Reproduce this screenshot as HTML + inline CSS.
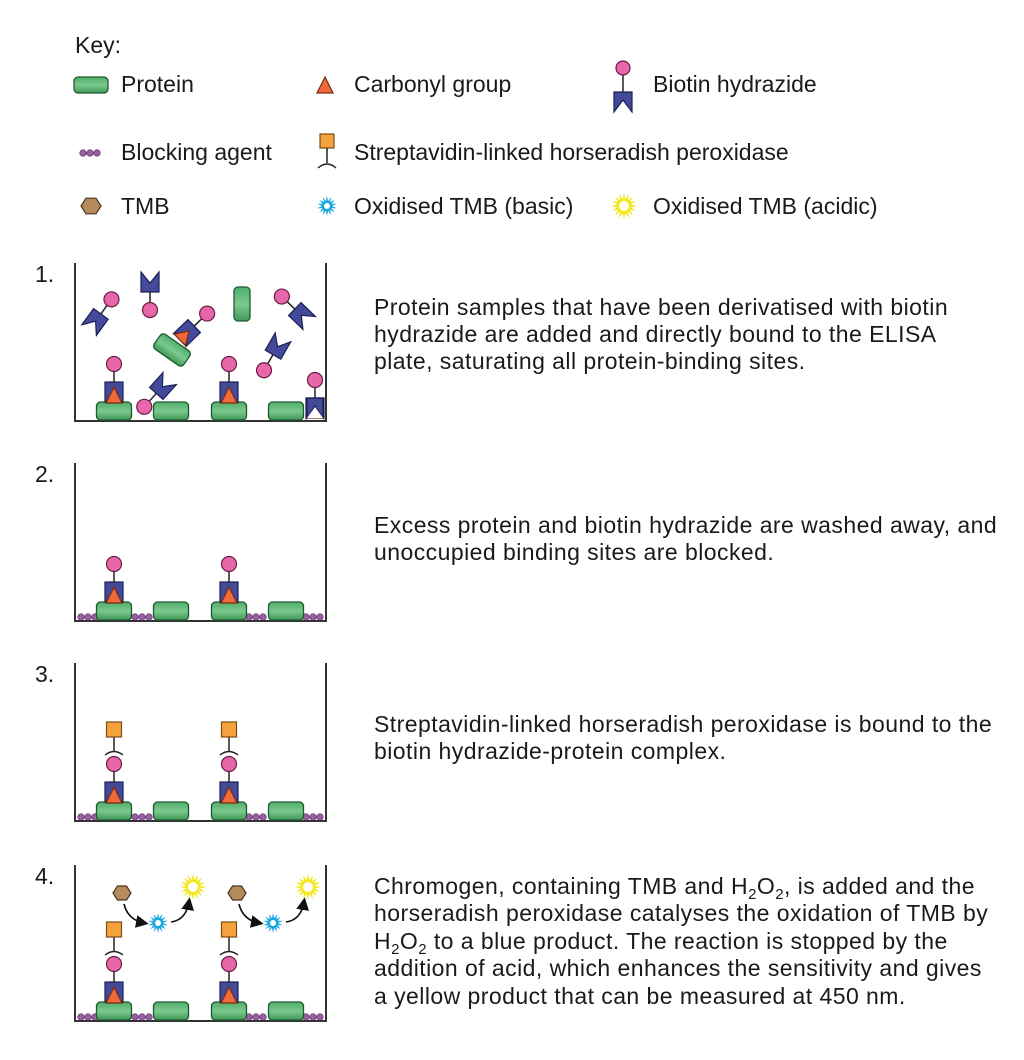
<!DOCTYPE html>
<html><head><meta charset="utf-8"><style>
html,body{margin:0;padding:0;background:#fff;}
svg{display:block;}
text{font-family:"Liberation Sans",Arial,sans-serif;font-size:23px;fill:#1a1a1a;}
.d{letter-spacing:0.45px;}
</style></head><body>
<svg id="s" width="1024" height="1060" viewBox="0 0 1024 1060" xmlns="http://www.w3.org/2000/svg">
<defs>
<linearGradient id="pg" x1="0" y1="0" x2="0" y2="1"><stop offset="0" stop-color="#4fae6a"/><stop offset="0.5" stop-color="#7cc98e"/><stop offset="1" stop-color="#3f9a58"/></linearGradient>
<marker id="ah" markerWidth="8" markerHeight="8" refX="5" refY="4" orient="auto"><path d="M0,0 L8,4 L0,8 z" fill="#111"/></marker>
</defs>
<text x="75" y="53">Key:</text>
<text x="121" y="92">Protein</text>
<text x="354" y="92">Carbonyl group</text>
<text x="653" y="92">Biotin hydrazide</text>
<text x="121" y="160">Blocking agent</text>
<text x="354" y="160">Streptavidin-linked horseradish peroxidase</text>
<text x="121" y="214">TMB</text>
<text x="354" y="214">Oxidised TMB (basic)</text>
<text x="653" y="214">Oxidised TMB (acidic)</text>

<text x="35" y="282">1.</text>
<text x="35" y="482">2.</text>
<text x="35" y="682">3.</text>
<text x="35" y="884">4.</text>

<g class="d">
<text x="374" y="315">Protein samples that have been derivatised with biotin</text>
<text x="374" y="342">hydrazide are added and directly bound to the ELISA</text>
<text x="374" y="369">plate, saturating all protein-binding sites.</text>

<text x="374" y="533">Excess protein and biotin hydrazide are washed away, and</text>
<text x="374" y="560">unoccupied binding sites are blocked.</text>

<text x="374" y="732">Streptavidin-linked horseradish peroxidase is bound to the</text>
<text x="374" y="759">biotin hydrazide-protein complex.</text>

<text x="374" y="894">Chromogen, containing TMB and H<tspan font-size="15" dy="5">2</tspan><tspan dy="-5">O</tspan><tspan font-size="15" dy="5">2</tspan><tspan dy="-5">, is added and the</tspan></text>
<text x="374" y="921">horseradish peroxidase catalyses the oxidation of TMB by</text>
<text x="374" y="949">H<tspan font-size="15" dy="5">2</tspan><tspan dy="-5">O</tspan><tspan font-size="15" dy="5">2</tspan><tspan dy="-5"> to a blue product. The reaction is stopped by the</tspan></text>
<text x="374" y="976">addition of acid, which enhances the sensitivity and gives</text>
<text x="374" y="1004">a yellow product that can be measured at 450 nm.</text>
</g>
<g id="g"></g>
</svg>
<script>
var g=document.getElementById('g'),h='';
function prot(cx,cy,w,hh,r){h+='<rect x="'+(cx-w/2)+'" y="'+(cy-hh/2)+'" width="'+w+'" height="'+hh+'" rx="4" fill="url(#pg)" stroke="#1d5a2e" stroke-width="1.3" transform="rotate('+(r||0)+' '+cx+' '+cy+')"/>';}
function tri(cx,by,s){s=s||1;h+='<polygon points="'+(cx-8*s)+','+by+' '+(cx+8*s)+','+by+' '+cx+','+(by-16*s)+'" fill="#ee6a3a" stroke="#7a2a10" stroke-width="1.2"/>';}
function circ(x,y,r){h+='<circle cx="'+x+'" cy="'+y+'" r="'+(r||7.5)+'" fill="#e867a8" stroke="#6a1d45" stroke-width="1.2"/>';}
function notch(){return '<polygon points="-9,-10 9,-10 9,10 0,-1 -9,10" fill="#434a9a" stroke="#1b1f55" stroke-width="1.2"/>';}
function bh(x,y,rot,withTri){h+='<g transform="translate('+x+' '+y+') rotate('+rot+')"><line x1="0" y1="-10" x2="0" y2="-22" stroke="#222" stroke-width="1.5"/>'+notch();
 if(withTri)h+='<polygon points="-8,10 8,10 0,-3" fill="#ee6a3a" stroke="#7a2a10" stroke-width="1.2"/>';
 h+='<circle cx="0" cy="-28" r="7.5" fill="#e867a8" stroke="#6a1d45" stroke-width="1.2"/></g>';}
function sq(cx,top){h+='<rect x="'+(cx-9)+'" y="'+top+'" width="18" height="20" fill="#434a9a" stroke="#1b1f55" stroke-width="1.2"/>';}
function complexAt(cx,base){
 var pt=base-19;
 sq(cx,pt-20); tri(cx,pt+1);
 h+='<line x1="'+cx+'" y1="'+(pt-20)+'" x2="'+cx+'" y2="'+(pt-30)+'" stroke="#222" stroke-width="1.5"/>';
 circ(cx,pt-38);
}
function strep(cx,base){
 var pt=base-19, c=pt-38;
 h+='<path d="M'+(cx-9)+','+(c-9)+' Q'+cx+','+(c-16)+' '+(cx+9)+','+(c-9)+'" fill="none" stroke="#222" stroke-width="1.4"/>';
 h+='<line x1="'+cx+'" y1="'+(c-12)+'" x2="'+cx+'" y2="'+(c-27)+'" stroke="#222" stroke-width="1.5"/>';
 h+='<rect x="'+(cx-7.5)+'" y="'+(c-42)+'" width="15" height="15" fill="#f6a23c" stroke="#7a4a10" stroke-width="1.2"/>';
}
function star(cx,cy,ro,ri,n,fill,inner){var p=[];for(var i=0;i<2*n;i++){var a=Math.PI*i/n,r=i%2?ri:ro;p.push((cx+r*Math.sin(a)).toFixed(1)+','+(cy-r*Math.cos(a)).toFixed(1));}
 h+='<polygon points="'+p.join(' ')+'" fill="'+fill+'"/><circle cx="'+cx+'" cy="'+cy+'" r="'+inner+'" fill="#fff"/>';}
function hex(cx,cy,r){var p=[];for(var i=0;i<6;i++){var a=Math.PI/3*i;p.push((cx+r*Math.cos(a)).toFixed(1)+','+(cy+r*Math.sin(a)*0.9).toFixed(1));}
 h+='<polygon points="'+p.join(' ')+'" fill="#b58b5e" stroke="#4a3420" stroke-width="1.2"/>';}
function frame(top,base){h+='<path d="M75,'+top+' L75,'+base+' L326,'+base+' L326,'+top+'" fill="none" stroke="#333" stroke-width="2"/>';}
function dot(x,y){h+='<circle cx="'+x+'" cy="'+y+'" r="3.3" fill="#9a5fa2" stroke="#5a2a60" stroke-width="0.6"/>';}
function dots(base){var xs=[[79,96],[133,152],[247,266],[304,324]];var y=base-4;
 xs.forEach(function(s){for(var x=s[0]+2;x<=s[1];x+=7){dot(x,y);}});}
function baseProts(base){[114,171,229,286].forEach(function(c){prot(c,base-10,35,18,0);});}

prot(91,85,34,16,0);
tri(325,93);
h+='<line x1="623" y1="75" x2="623" y2="92" stroke="#222" stroke-width="1.5"/>';
h+='<polygon points="614,92 632,92 632,112 623,100 614,112" fill="#434a9a" stroke="#1b1f55" stroke-width="1.2"/>';
circ(623,68,7);
for(var i=0;i<3;i++)dot(83+i*7,153);
h+='<rect x="320" y="134" width="14" height="14" fill="#f6a23c" stroke="#7a4a10" stroke-width="1.2"/><line x1="327" y1="148" x2="327" y2="163" stroke="#222" stroke-width="1.5"/><path d="M318,168 Q327,160 336,168" fill="none" stroke="#222" stroke-width="1.4"/>';
hex(91,206,10);
star(327,206,10,5,14,"#1aa7e0",3);
star(624,206,13,7,16,"#f3e81c",5);

frame(263,421);
[114,171,229,286].forEach(function(c){prot(c,411,35,18,0);});
complexAt(114,421);complexAt(229,421);
bh(95,322,36);bh(150,282,180);
prot(172,350,36,18,35);bh(187,333,46,true);
prot(242,304,16,34,0);
bh(302,316,-46);bh(278,346,210);bh(163,386,222);
bh(315,408,0,true);
h+='<polygon points="307,398 323,398 323,418 315,406 307,418" fill="#434a9a" stroke="#1b1f55" stroke-width="1.2"/>';
h+='<polygon points="307,418 323,418 315,407" fill="#fff"/>';

frame(463,621);dots(621);baseProts(621);complexAt(114,621);complexAt(229,621);
frame(663,821);dots(821);baseProts(821);complexAt(114,821);complexAt(229,821);strep(114,821);strep(229,821);
frame(865,1021);dots(1021);baseProts(1021);complexAt(114,1021);complexAt(229,1021);strep(114,1021);strep(229,1021);
[0,115].forEach(function(o){
 hex(122+o,893,9);
 star(158+o,923,10,5,14,"#1aa7e0",3);
 star(193+o,887,13,7,16,"#f3e81c",5);
 h+='<path d="M'+(124+o)+',904 Q'+(128+o)+',920 '+(144+o)+',923" fill="none" stroke="#111" stroke-width="1.6" marker-end="url(#ah)"/>';
 h+='<path d="M'+(171+o)+',922 Q'+(186+o)+',920 '+(189+o)+',902" fill="none" stroke="#111" stroke-width="1.6" marker-end="url(#ah)"/>';
});
g.innerHTML=h;
</script>
</body></html>
